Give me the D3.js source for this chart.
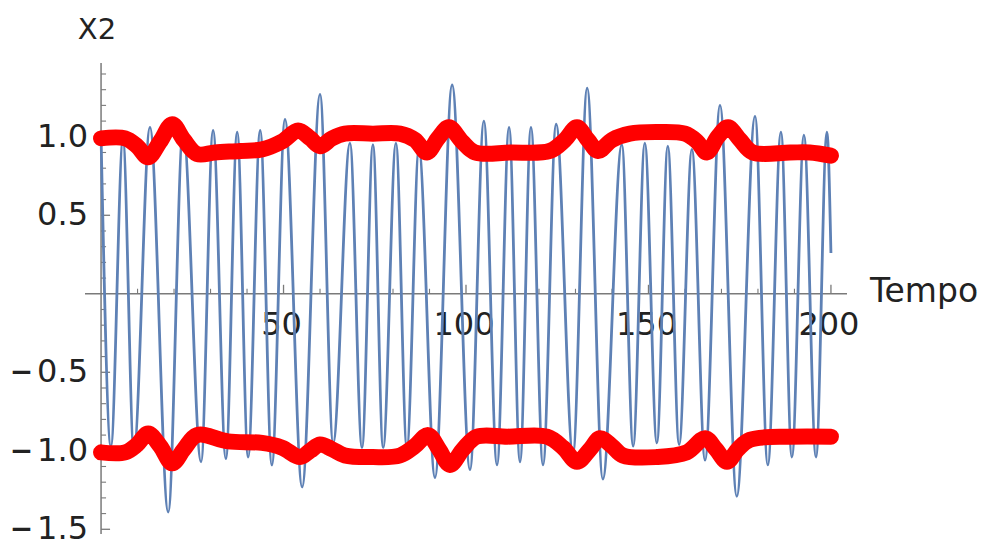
<!DOCTYPE html>
<html>
<head>
<meta charset="utf-8">
<script src="https://cdn.jsdelivr.net/npm/d3@7"></script>
<style>
  html, body { margin: 0; padding: 0; background: #ffffff; }
  svg { display: block; }
  text { font-family: "DejaVu Sans", sans-serif; fill: #222222; }
</style>
</head>
<body>
<svg id="chart" width="992" height="547"></svg>
<script>
// X2 oscillation: turning points (time, value) from t = 0 to t = 200
const x2Time = [0, 2.7, 6.0, 9.0, 13.4, 18.4, 22.5, 27.4, 30.7, 34.2, 37.3, 40.3, 43.6, 46.8,
  50.4, 55.1, 60.0, 63.6, 68.2, 71.5, 74.5, 77.3, 80.8, 83.8, 87.1, 91.5, 96.2, 101.1,
  104.9, 108.5, 111.8, 114.8, 117.8, 121.1, 124.7, 129.3, 133.2, 137.5, 142.7, 145.8,
  149.0, 152.3, 155.3, 158.4, 161.9, 165.5, 169.6, 174.2, 179.2, 182.7, 186.3, 189.3,
  192.6, 195.9, 198.9, 200.0];
const x2Value = [1.0, -0.97, 0.98, -1.0, 1.06, -1.39, 1.05, -1.07, 1.04, -1.05, 1.03, -1.04, 1.04, -1.09,
  1.11, -1.23, 1.27, -0.95, 0.96, -0.98, 0.95, -0.98, 0.96, -0.98, 0.92, -1.17, 1.33, -1.12,
  1.10, -1.09, 1.06, -1.07, 1.06, -1.09, 1.08, -1.02, 1.31, -1.18, 0.95, -0.97,
  0.96, -0.95, 0.94, -0.96, 0.92, -1.06, 1.20, -1.29, 1.13, -1.09, 1.03, -1.04,
  1.01, -1.04, 1.03, 0.26];

// Upper envelope
const upperTime = [0, 6.6, 9.9, 12.9, 16.2, 19.5, 22.7, 26.3, 31.2, 38.1, 44.1, 49.6, 54.0, 57.3,
  60.0, 63.3, 66.8, 74.5, 81.9, 86.0, 89.3, 92.3, 95.3, 98.9, 102.5, 112.1, 123.0, 127.1,
  130.4, 133.4, 136.2, 140.0, 144.9, 152.3, 160.0, 163.3, 166.0, 169.0, 171.8, 175.1,
  178.6, 188.8, 194.2, 200.0];
const upperValue = [0.99, 0.99, 0.94, 0.87, 0.97, 1.08, 0.98, 0.89, 0.90, 0.91, 0.92, 0.97, 1.04, 0.99,
  0.94, 0.99, 1.02, 1.02, 1.02, 0.98, 0.90, 0.99, 1.06, 0.97, 0.90, 0.90, 0.91, 0.98,
  1.06, 0.98, 0.91, 0.98, 1.02, 1.03, 1.02, 0.97, 0.90, 1.00, 1.06, 0.98,
  0.90, 0.90, 0.90, 0.88];

// Lower envelope
const lowerTime = [0, 6.6, 9.9, 12.9, 16.2, 19.5, 22.7, 26.3, 34.8, 44.1, 49.6, 54.5, 57.3, 60.0,
  63.3, 66.8, 74.5, 81.9, 86.0, 89.6, 92.6, 95.6, 99.2, 103.0, 111.3, 122.2, 126.6, 130.4,
  134.0, 136.7, 140.0, 143.0, 152.3, 160.5, 165.5, 168.5, 171.5, 174.5, 177.8, 188.8, 200.0];
const lowerValue = [-1.01, -1.01, -0.96, -0.89, -0.97, -1.08, -0.99, -0.90, -0.94, -0.95, -0.98, -1.04, -1.00, -0.96,
  -0.99, -1.03, -1.04, -1.03, -0.97, -0.90, -0.99, -1.09, -0.99, -0.91, -0.91, -0.91, -0.98, -1.07,
  -0.99, -0.92, -0.97, -1.03, -1.04, -1.01, -0.92, -0.99, -1.07, -0.99, -0.93, -0.91, -0.91];

// Axis ticks
const xTickValues = [50, 100, 150, 200];
const xMinorTicks = d3.range(10, 201, 10).filter(v => v % 50 !== 0);
const yTickValues = [-1.5, -1.0, -0.5, 0.5, 1.0];
const yMinorTicks = d3.range(-15, 15).map(v => v / 10).filter(v => Math.abs((v * 10) % 5) > 0.01);

const svg = d3.select("#chart");

const x = d3.scaleLinear().domain([-4.4, 204.4]).range([85, 847]);
const y = d3.scaleLinear().domain([-1.53, 1.47]).range([534, 63]);

const axisColor = "#7a7a7a";

// Axes crossing at the origin
const axes = svg.append("g");
axes.append("line")
  .attr("x1", x(-4.4)).attr("x2", x(204.4))
  .attr("y1", y(0)).attr("y2", y(0))
  .attr("stroke", axisColor).attr("stroke-width", 1.5);
axes.append("line")
  .attr("x1", x(0)).attr("x2", x(0))
  .attr("y1", y(-1.53)).attr("y2", y(1.47))
  .attr("stroke", axisColor).attr("stroke-width", 1.5);

// x ticks point up, y ticks point right
axes.selectAll(".xmaj").data(xTickValues).enter().append("line")
  .attr("x1", d => x(d)).attr("x2", d => x(d))
  .attr("y1", y(0)).attr("y2", y(0) - 9)
  .attr("stroke", axisColor).attr("stroke-width", 1.3);
axes.selectAll(".xmin").data(xMinorTicks).enter().append("line")
  .attr("x1", d => x(d)).attr("x2", d => x(d))
  .attr("y1", y(0)).attr("y2", y(0) - 5)
  .attr("stroke", axisColor).attr("stroke-width", 1.1);
axes.selectAll(".ymaj").data(yTickValues).enter().append("line")
  .attr("x1", x(0)).attr("x2", x(0) + 9)
  .attr("y1", d => y(d)).attr("y2", d => y(d))
  .attr("stroke", axisColor).attr("stroke-width", 1.3);
axes.selectAll(".ymin").data(yMinorTicks).enter().append("line")
  .attr("x1", x(0)).attr("x2", x(0) + 5)
  .attr("y1", d => y(d)).attr("y2", d => y(d))
  .attr("stroke", axisColor).attr("stroke-width", 1.1);

axes.selectAll(".xlab").data(xTickValues).enter().append("text")
  .attr("x", d => x(d) - 2).attr("y", y(0) + 41)
  .attr("text-anchor", "middle").attr("font-size", 32)
  .text(d => d);

// y labels: a short heavy minus for negative values, then the magnitude
const ylab = axes.selectAll(".ylab").data(yTickValues).enter().append("text")
  .attr("x", 88).attr("y", d => y(d) + 10)
  .attr("text-anchor", "end").attr("font-size", 32);
ylab.filter(d => d < 0).append("tspan")
  .attr("font-weight", "bold").attr("font-size", 28).attr("dy", -1)
  .text("\u2212");
ylab.append("tspan")
  .attr("dx", d => d < 0 ? 4 : 0)
  .attr("dy", d => d < 0 ? 1 : 0)
  .text(d => Math.abs(d).toFixed(1));

// Axis names
svg.append("text").attr("x", 870).attr("y", 302).attr("font-size", 33).text("Tempo");
svg.append("text").attr("x", 97).attr("y", 39).attr("text-anchor", "middle").attr("font-size", 29).text("X2");

// Series
const oscLine = d3.line().x(d => x(d[0])).y(d => y(d[1])).curve(d3.curveMonotoneX);
const envLine = d3.line().x(d => x(d[0])).y(d => y(d[1])).curve(d3.curveCatmullRom.alpha(0.5));

svg.append("path")
  .datum(d3.zip(x2Time, x2Value))
  .attr("d", oscLine)
  .attr("fill", "none")
  .attr("stroke", "#5e81b5")
  .attr("stroke-width", 2.8)
  .attr("stroke-linejoin", "round");

[d3.zip(upperTime, upperValue), d3.zip(lowerTime, lowerValue)].forEach(pts => {
  svg.append("path")
    .datum(pts)
    .attr("d", envLine)
    .attr("fill", "none")
    .attr("stroke", "#ff0000")
    .attr("stroke-width", 16)
    .attr("stroke-linecap", "round")
    .attr("stroke-linejoin", "round");
});
</script>
</body>
</html>
